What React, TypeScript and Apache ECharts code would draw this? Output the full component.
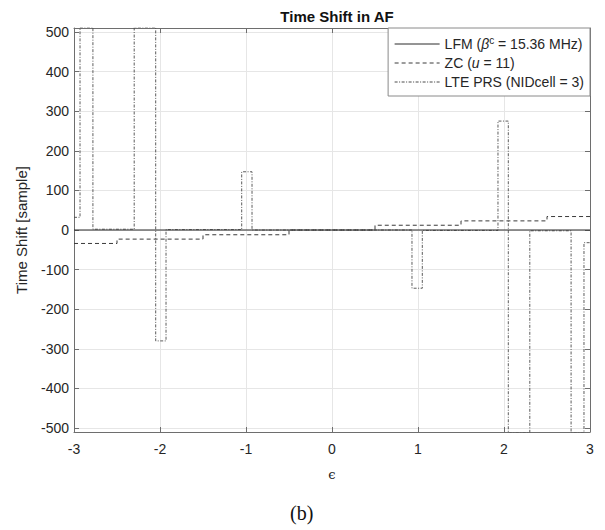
import React, { useEffect, useRef } from "react";
import * as echarts from "echarts";

// ---- data ----
const xTicks = [-3, -2, -1, 0, 1, 2, 3];
const yTickStep = 100;

// LFM: flat at zero
const lfmX = [-3, 3];
const lfmY = [0, 0];

// ZC (u = 11): staircase, value held until next breakpoint
const zcX = [-3, -2.5, -1.5, -0.5, 0.5, 1.5, 2.5, 3];
const zcY = [-34, -23, -12, 0, 12, 23, 34, 34];

// LTE PRS (NIDcell = 3): staircase, value held until next breakpoint
const lteX = [-3, -2.93, -2.78, -2.3, -2.05, -1.93, -1.05, -0.93, 0.93, 1.05, 1.93, 2.05, 2.3, 2.78, 2.93, 3];
const lteY = [32, 512, 2, 512, -280, 1, 147, 0, -147, -1, 275, -512, -2, -512, -32, -32];

const seriesNames = ["LFM", "ZC", "LTE"];

const pairs = (xs: number[], ys: number[]) => xs.map((x, i) => [x, ys[i]]);

export default function App() {
  const ref = useRef<HTMLDivElement>(null);
  useEffect(() => {
    if (!ref.current) return;
    const chart = echarts.init(ref.current, undefined, { renderer: "svg" });
    const font = "'Liberation Sans', Arial, sans-serif";
    const frame = "#6e6e6e";
    const gridLine = "#e6e6e6";
    const textColor = "#262626";
    const mirrorX = {
      type: "value",
      min: -3,
      max: 3,
      interval: 1,
      position: "top",
      axisLine: { show: true, onZero: false, lineStyle: { color: frame, width: 1 } },
      axisTick: { show: true, inside: true, length: 5, lineStyle: { color: frame } },
      axisLabel: { show: false },
      splitLine: { show: false },
    };
    const mirrorY = {
      type: "value",
      min: -510,
      max: 510,
      position: "right",
      splitNumber: 10,
      axisLine: { show: true, onZero: false, lineStyle: { color: frame, width: 1 } },
      axisTick: { show: true, inside: true, length: 5, lineStyle: { color: frame } },
      axisLabel: { show: false, showMinLabel: false, showMaxLabel: false },
      splitLine: { show: false },
    };
    chart.setOption({
      animation: false,
      backgroundColor: "#ffffff",
      title: {
        text: "Time Shift in AF",
        left: 332,
        top: 4,
        textAlign: "center",
        textStyle: { fontFamily: font, fontSize: 15, fontWeight: "bold", color: "#111" },
      },
      grid: { left: 74, right: 15, top: 28, bottom: 98 },
      legend: {
        data: seriesNames,
        orient: "vertical",
        right: 15,
        top: 28,
        backgroundColor: "#ffffff",
        borderColor: "#8a8a8a",
        borderWidth: 1,
        borderRadius: 0,
        padding: [7, 6, 7, 6],
        itemGap: 5,
        itemWidth: 45,
        itemHeight: 15,
        itemStyle: { opacity: 0, borderWidth: 0 },
        lineStyle: { width: 1 },
        textStyle: {
          fontFamily: font,
          fontSize: 14,
          color: textColor,
          rich: {
            n: { fontFamily: font, fontSize: 14, color: textColor },
            i: { fontFamily: font, fontSize: 14, fontStyle: "italic", color: textColor },
            sup: { fontFamily: font, fontSize: 10, color: textColor, padding: [0, 0, 8, 0] },
          },
        },
        formatter: (name: string) => {
          if (name === "LFM") return "{n|LFM (}{i|β}{sup|c}{n| = 15.36 MHz)}";
          if (name === "ZC") return "{n|ZC (}{i|u}{n| = 11)}";
          return "{n|LTE PRS (NIDcell = 3)}";
        },
      },
      xAxis: [
        {
          type: "value",
          min: xTicks[0],
          max: xTicks[xTicks.length - 1],
          interval: 1,
          name: "ϵ",
          nameLocation: "middle",
          nameGap: 36,
          nameTextStyle: { fontFamily: "'DejaVu Serif', serif", fontSize: 13, color: textColor },
          axisLine: { show: true, onZero: false, lineStyle: { color: frame, width: 1 } },
          axisTick: { show: true, inside: true, length: 5, lineStyle: { color: frame } },
          axisLabel: { fontFamily: font, fontSize: 14, color: textColor, margin: 10 },
          splitLine: { show: true, lineStyle: { color: gridLine, width: 1 } },
        },
        mirrorX,
      ],
      yAxis: [
        {
          type: "value",
          min: -510,
          max: 510,
          splitNumber: 10,
          name: "Time Shift [sample]",
          nameLocation: "middle",
          nameGap: 45,
          nameTextStyle: { fontFamily: font, fontSize: 15, color: textColor },
          axisLine: { show: true, onZero: false, lineStyle: { color: frame, width: 1 } },
          axisTick: { show: true, inside: true, length: 5, lineStyle: { color: frame } },
          axisLabel: {
            fontFamily: font,
            fontSize: 14,
            color: textColor,
            margin: 5,
            showMinLabel: false,
            showMaxLabel: false,
            formatter: (v: number) => (v % yTickStep === 0 ? String(v) : ""),
          },
          splitLine: { show: true, lineStyle: { color: gridLine, width: 1 } },
        },
        mirrorY,
      ],
      series: [
        {
          name: "LFM",
          type: "line",
          data: pairs(lfmX, lfmY),
          showSymbol: false,
          symbol: "none",
          lineStyle: { color: "#2a2a2a", width: 1.1, type: "solid" },
          itemStyle: { color: "#2a2a2a" },
          z: 4,
        },
        {
          name: "ZC",
          type: "line",
          step: "end",
          data: pairs(zcX, zcY),
          showSymbol: false,
          symbol: "none",
          lineStyle: { color: "#3a3a3a", width: 1, type: [4, 3] },
          itemStyle: { color: "#3a3a3a" },
          z: 3,
        },
        {
          name: "LTE",
          type: "line",
          step: "end",
          data: pairs(lteX, lteY),
          showSymbol: false,
          symbol: "none",
          lineStyle: { color: "#4a4a4a", width: 0.9, type: [3, 1.5, 1, 1.5] },
          itemStyle: { color: "#4a4a4a" },
          z: 2,
        },
      ],
      graphic: [
        {
          type: "text",
          left: 290,
          top: 503,
          style: {
            text: "(b)",
            font: "20px 'Liberation Serif', 'Times New Roman', serif",
            fill: "#111",
          },
        },
      ],
    });
    return () => chart.dispose();
  }, []);
  return (
    <div
      ref={ref}
      style={{ position: "fixed", left: 0, top: 0, width: 605, height: 530, background: "#fff" }}
    />
  );
}
